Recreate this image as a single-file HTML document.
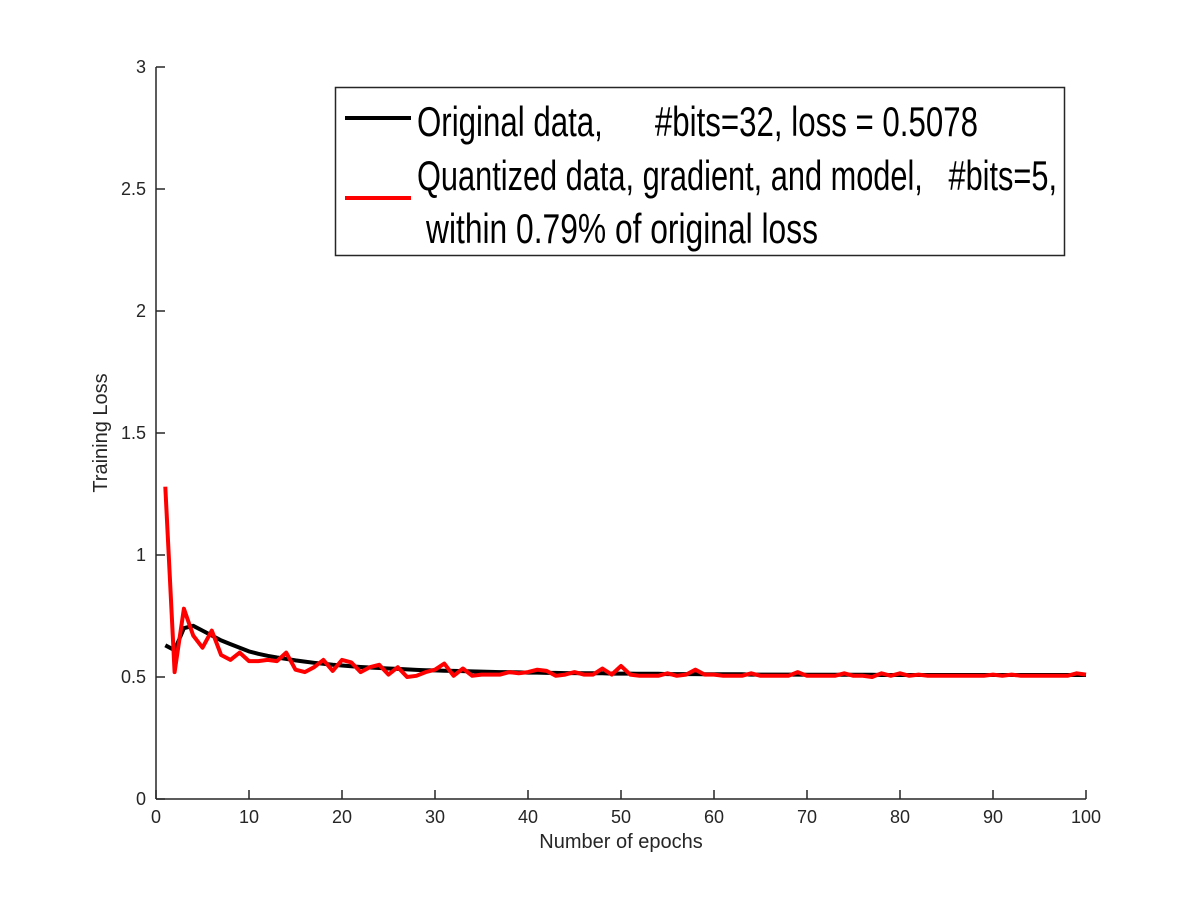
<!DOCTYPE html>
<html><head><meta charset="utf-8"><style>
html,body{margin:0;padding:0;background:#fff}
svg{display:block}
text{font-family:"Liberation Sans",sans-serif;white-space:pre}
</style></head><body>
<svg id="chart" width="1200" height="900" viewBox="0 0 1200 900" xmlns="http://www.w3.org/2000/svg">
<g id="axes"></g>
<g id="series"></g>
<text x="621" y="848" font-size="20" text-anchor="middle" fill="#262626">Number of epochs</text>
<text x="107" y="433" font-size="20" text-anchor="middle" fill="#262626" transform="rotate(-90 107 433)">Training Loss</text>
<g>
<rect x="335.5" y="87.5" width="729" height="168" fill="#fff" stroke="#262626" stroke-width="1.5"/>
<line x1="345" y1="118" x2="411" y2="118" stroke="#000" stroke-width="4"/>
<text x="417" y="136" font-size="42" textLength="561" lengthAdjust="spacingAndGlyphs" fill="#000" xml:space="preserve">Original data,      #bits=32, loss = 0.5078</text>
<line x1="345" y1="198" x2="411" y2="198" stroke="#f00" stroke-width="4"/>
<text x="417" y="190" font-size="42" textLength="640" lengthAdjust="spacingAndGlyphs" fill="#000" xml:space="preserve">Quantized data, gradient, and model,   #bits=5,</text>
<text x="426" y="243" font-size="42" textLength="392" lengthAdjust="spacingAndGlyphs" fill="#000">within 0.79% of original loss</text>
</g>
</svg>
<script>
const xTicks=[0,10,20,30,40,50,60,70,80,90,100];
const yTicks=[0,0.5,1,1.5,2,2.5,3];
const yTickLabels=["0","0.5","1","1.5","2","2.5","3"];
const originalLoss=[0.63,0.61,0.70,0.71,0.69,0.67,0.65,0.635,0.62,0.605,0.595,0.587,0.58,0.574,0.568,0.563,0.558,0.554,0.55,0.547,0.544,0.541,0.539,0.537,0.535,0.533,0.531,0.529,0.528,0.527,0.526,0.525,0.524,0.523,0.522,0.521,0.52,0.52,0.519,0.518,0.518,0.517,0.517,0.516,0.516,0.515,0.515,0.515,0.514,0.514,0.514,0.513,0.513,0.513,0.512,0.512,0.512,0.512,0.511,0.511,0.511,0.511,0.511,0.51,0.51,0.51,0.51,0.51,0.51,0.509,0.509,0.509,0.509,0.509,0.509,0.509,0.509,0.508,0.508,0.508,0.508,0.508,0.508,0.508,0.508,0.508,0.508,0.508,0.508,0.508,0.508,0.508,0.508,0.508,0.508,0.508,0.508,0.508,0.508,0.508];
const quantizedLoss=[1.28,0.52,0.78,0.67,0.62,0.69,0.59,0.57,0.60,0.565,0.565,0.57,0.565,0.60,0.53,0.52,0.54,0.57,0.525,0.57,0.56,0.52,0.54,0.55,0.51,0.54,0.50,0.505,0.52,0.53,0.555,0.505,0.535,0.505,0.51,0.51,0.51,0.52,0.515,0.52,0.53,0.525,0.505,0.51,0.52,0.51,0.51,0.535,0.51,0.545,0.51,0.505,0.505,0.505,0.515,0.505,0.51,0.53,0.51,0.51,0.505,0.505,0.505,0.515,0.505,0.505,0.505,0.505,0.52,0.505,0.505,0.505,0.505,0.515,0.505,0.505,0.50,0.515,0.505,0.515,0.505,0.51,0.505,0.505,0.505,0.505,0.505,0.505,0.505,0.51,0.505,0.51,0.505,0.505,0.505,0.505,0.505,0.505,0.515,0.51];
const X0=156,X1=1086,Y0=799,Y1=67;
function sx(v){return X0+(v-0)/(100-0)*(X1-X0);}
function sy(v){return Y0-(v-0)/(3-0)*(Y0-Y1);}
const NS="http://www.w3.org/2000/svg";
const axes=document.getElementById('axes');
const series=document.getElementById('series');
function mk(tag,attrs,parent){const e=document.createElementNS(NS,tag);for(const k in attrs)e.setAttribute(k,attrs[k]);parent.appendChild(e);return e;}
let ya=mk('line',{x1:X0,y1:Y1,x2:X0,y2:Y0,stroke:'#262626','stroke-width':1.5},axes);


let xa=mk('line',{x1:X0,y1:Y0,x2:X1,y2:Y0,stroke:'#262626','stroke-width':1.5},axes);


xTicks.forEach(t=>{
 const tk=mk('line',{x1:sx(t),y1:Y0,x2:sx(t),y2:Y0-9,stroke:'#262626','stroke-width':1.5},axes);
 
 
 const lb=mk('text',{x:sx(t),y:Y0+24,'font-size':18,'text-anchor':'middle',fill:'#262626'},axes);
 lb.textContent=String(t);
 
 
});
yTicks.forEach((t,i)=>{
 const tk=mk('line',{x1:X0,y1:sy(t),x2:X0+9,y2:sy(t),stroke:'#262626','stroke-width':1.5},axes);
 
 
 const lb=mk('text',{x:X0-10,y:sy(t)+6,'font-size':18,'text-anchor':'end',fill:'#262626'},axes);
 lb.textContent=yTickLabels[i];
 
 
});
function pts(arr){return arr.map((v,i)=>sx(i+1).toFixed(1)+','+sy(v).toFixed(1)).join(' ');}
const l1=mk('polyline',{points:pts(originalLoss),fill:'none',stroke:'#000','stroke-width':4,'stroke-linejoin':'round'},series);


const l2=mk('polyline',{points:pts(quantizedLoss),fill:'none',stroke:'#f00','stroke-width':4,'stroke-linejoin':'round'},series);


</script>
</body></html>
